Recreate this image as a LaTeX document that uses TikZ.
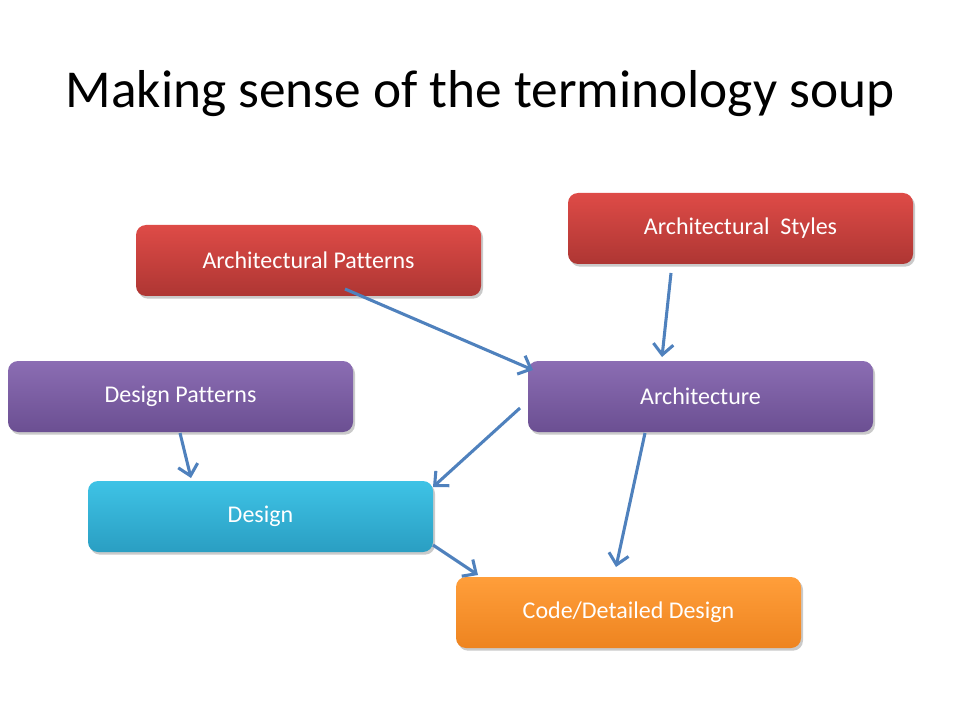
\documentclass[tikz,border=0pt]{standalone}
\usepackage{fontspec}
\setmainfont[Ligatures=NoCommon]{Carlito}
\usetikzlibrary{arrows.meta,shadows,positioning}
\definecolor{arrowblue}{HTML}{4F81BD}
\definecolor{redtop}{HTML}{DE4B47}
\definecolor{redbot}{HTML}{AE3633}
\definecolor{purtop}{HTML}{8B6DB3}
\definecolor{purbot}{HTML}{6B4F92}
\definecolor{cyantop}{HTML}{3EC3E6}
\definecolor{cyanbot}{HTML}{2A9EC2}
\definecolor{orgtop}{HTML}{FF9E3A}
\definecolor{orgbot}{HTML}{EE8420}
\tikzset{
  box/.style={rounded corners=7.5pt, minimum width=258.75pt, minimum height=53.25pt,
    text=white, font=\fontsize{18}{21}\selectfont, inner sep=0pt,
    drop shadow={shadow xshift=1.5pt, shadow yshift=-2pt, opacity=0.35, fill=black!60}},
  redbox/.style={box, top color=redtop, bottom color=redbot},
  purbox/.style={box, top color=purtop, bottom color=purbot},
  cyanbox/.style={box, top color=cyantop, bottom color=cyanbot},
  orgbox/.style={box, top color=orgtop, bottom color=orgbot},
  conn/.style={draw=arrowblue, line width=2.3pt, -{Straight Barb[length=8pt,width=15pt,line width=2.3pt]}},
}
\begin{document}
\begin{tikzpicture}[x=0.75pt,y=-0.75pt]
\useasboundingbox (0,0) rectangle (960,720);
\node[font=\fontsize{40}{48}\selectfont] (title) at (480,94) {Making sense of the terminology soup};
\node[redbox] (ap) at (308.5,260.5) {Architectural Patterns};
\node[redbox] (as) at (740.5,228.5) {Architectural\ \ Styles};
\node[purbox] (dp) at (180.5,396.5) {Design Patterns};
\node[purbox] (ar) at (700.5,396.5) {Architecture};
\node[cyanbox] (de) at (260.5,516.5) {Design};
\node[orgbox] (cd) at (628.5,612.5) {Code/Detailed Design};
\coordinate (ap1) at (345,289); \coordinate (ar1) at (533,370);
\coordinate (as1) at (671,273); \coordinate (ar2) at (662,357);
\coordinate (ar3) at (520,408); \coordinate (de1) at (433,487);
\coordinate (ar4) at (645,433); \coordinate (cd1) at (616,567);
\coordinate (dp1) at (180,433); \coordinate (de2) at (191,478);
\coordinate (de3) at (433,545); \coordinate (cd2) at (478,575);
\draw[conn] (ap1) -- (ar1);
\draw[conn] (as1) -- (ar2);
\draw[conn] (ar3) -- (de1);
\draw[conn] (ar4) -- (cd1);
\draw[conn] (dp1) -- (de2);
\draw[conn] (de3) -- (cd2);
\end{tikzpicture}
\end{document}
